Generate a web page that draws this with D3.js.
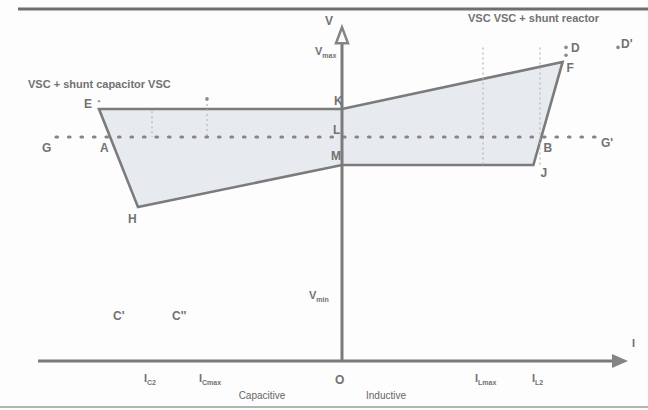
<!DOCTYPE html>
<html><head><meta charset="utf-8">
<script src="https://cdn.jsdelivr.net/npm/d3@7"></script>
<style>
html,body{margin:0;padding:0;background:#fdfdfd;}
svg{display:block;font-family:"Liberation Sans",Arial,sans-serif;}
</style></head>
<body><div id="chart"></div>
<script>
// ---- data (I in p.u. of current, V in p.u. of voltage) ----
const regionNames = ["E","K","F","J","M","H"];
const regionI = [-1.215, 0, 1.103, 0.957, 0, -1.02];
const regionV = [1.125, 1.125, 1.335, 0.875, 0.875, 0.687];
const refLineI = [-1.43, 1.275];   // G ... G'
const refV = 1.0;                  // L
const crossNames = ["A","B"];
const crossI = [-1.17, 0.998];
const currentTickNames = ["IC2","ICmax","ILmax","IL2"];
const currentTickI = [-0.95, -0.675, 0.705, 0.99];
const guideTop = [1.115, 1.17, 1.40, 1.40];
const vLevelNames = ["Vmax","Vmin"];
const vLevels = [1.39, 0.30];
const axisI = [-1.52, 1.43];
const axisV = [0, 1.49];
const dotI = [-0.675, 1.12, 1.38];
const dotV = [1.17, 1.40, 1.40];

const W = 648, H = 410;
const x = d3.scaleLinear().domain(axisI).range([38, 628]);
const y = d3.scaleLinear().domain([0, 1]).range([361, 137]);
const ink = "#7b7b7b";

const svg = d3.select("#chart").append("svg").attr("width", W).attr("height", H);
svg.append("rect").attr("width", W).attr("height", H).attr("fill", "#fdfdfd");

// frame lines
svg.append("line").attr("x1", 18).attr("x2", W).attr("y1", 9).attr("y2", 9)
  .attr("stroke", "#6e6e6e").attr("stroke-width", 3);
svg.append("line").attr("x1", 0).attr("x2", W).attr("y1", 407).attr("y2", 407)
  .attr("stroke", "#9a9a9a").attr("stroke-width", 1.5);

// operating region
const pts = regionI.map((d, i) => [x(d), y(regionV[i])]);
svg.append("path").attr("d", d3.line()(pts) + "Z")
  .attr("fill", "#e7ebef").attr("stroke", ink).attr("stroke-width", 2.6)
  .attr("stroke-linejoin", "miter");

// faint guide lines
currentTickI.forEach((c, i) => {
  const yb = i < 2 ? y(regionV[0]) + 28 : y(regionV[3]);
  svg.append("line").attr("x1", x(c)).attr("x2", x(c))
    .attr("y1", y(guideTop[i])).attr("y2", yb)
    .attr("stroke", "#b5b5b5").attr("stroke-width", 1.2).attr("stroke-dasharray", "2,3");
});

// dotted reference line
svg.append("line").attr("x1", x(refLineI[0])).attr("x2", x(refLineI[1]))
  .attr("y1", y(refV)).attr("y2", y(refV))
  .attr("stroke", "#858585").attr("stroke-width", 3.2)
  .attr("stroke-dasharray", "1.5,11").attr("stroke-linecap", "round");

// small dots
dotI.forEach((d, i) => {
  svg.append("circle").attr("cx", x(d)).attr("cy", y(dotV[i])).attr("r", 1.8).attr("fill", "#8a8a8a");
});
svg.append("circle").attr("cx", x(1.12)).attr("cy", y(1.365)).attr("r", 1.8).attr("fill", "#8a8a8a");
svg.append("circle").attr("cx", x(-1.215)).attr("cy", y(1.16)).attr("r", 1.2).attr("fill", "#9a9a9a");

// axes
svg.append("line").attr("x1", x(axisI[0])).attr("x2", x(axisI[1]) - 10)
  .attr("y1", y(0)).attr("y2", y(0)).attr("stroke", ink).attr("stroke-width", 3);
svg.append("line").attr("x1", x(0)).attr("x2", x(0))
  .attr("y1", y(0)).attr("y2", y(axisV[1]) + 12).attr("stroke", ink).attr("stroke-width", 3);
// arrowheads
const tipX = [x(axisI[1]), y(0)];
svg.append("path").attr("d", `M${tipX[0]},${tipX[1]} L${tipX[0]-16},${tipX[1]-7} L${tipX[0]-16},${tipX[1]+7} Z`)
  .attr("fill", "#858585");
const tipY = [x(0), y(axisV[1])];
svg.append("path").attr("d", `M${tipY[0]},${tipY[1]} L${tipY[0]-6},${tipY[1]+16} L${tipY[0]+6},${tipY[1]+16} Z`)
  .attr("fill", "#fdfdfd").attr("stroke", "#858585").attr("stroke-width", 2.5);

// text helper
function label(px, py, main, sub, opts = {}) {
  const t = svg.append("text").attr("x", px).attr("y", py)
    .attr("fill", opts.color || "#727272").attr("font-size", opts.size || 12)
    .attr("font-weight", opts.weight || "bold").attr("text-anchor", opts.anchor || "start");
  t.append("tspan").text(main);
  if (sub) t.append("tspan").attr("font-size", 7).attr("dy", 3).text(sub);
  return t;
}

// axis names
label(x(0) - 17, 25, "V");
label(x(1.45), y(0) - 14, "I", null, {size: 11});
label(x(0) - 7, 384, "O");
label(x(0) - 27, y(vLevels[0]) + 5, "V", "max", {size: 11});
label(x(0) - 33, y(vLevels[1]) + 5, "V", "min", {size: 11});

// current tick labels
const tickMain = ["I", "I", "I", "I"];
const tickSub = ["C2", "Cmax", "Lmax", "L2"];
currentTickI.forEach((c, i) => {
  label(x(c) - 8, 382, tickMain[i], tickSub[i], {size: 11});
});
label(x(-0.4), 399, "Capacitive", null, {size: 10, weight: "normal", anchor: "middle", color: "#666"});
label(x(0.22), 399, "Inductive", null, {size: 10, weight: "normal", anchor: "middle", color: "#666"});

// point labels
const offs = {E: [-15, -1], K: [-8, -4], F: [4, 10], J: [7, 12], M: [-11, -5], H: [-10, 16]};
regionNames.forEach((n, i) => {
  label(pts[i][0] + offs[n][0], pts[i][1] + offs[n][1], n);
});
label(x(crossI[0]) - 8, y(refV) + 15, crossNames[0]);
label(x(crossI[1]) + 2, y(refV) + 15, crossNames[1]);
label(x(refLineI[0]) - 14, y(refV) + 15, "G");
label(x(refLineI[1]) + 4, y(refV) + 10, "G'");
label(x(0) - 9, y(refV) - 3, "L");
label(x(1.12) + 5, y(1.40) + 5, "D");
label(x(1.38) + 3, y(1.40) + 1, "D'");
label(113, 320, "C'");
label(172, 320, "C''");

// legend texts
label(28, 88, "VSC + shunt capacitor  VSC", null, {size: 11});
label(468, 22, "VSC  VSC + shunt reactor", null, {size: 11});
</script></body></html>
